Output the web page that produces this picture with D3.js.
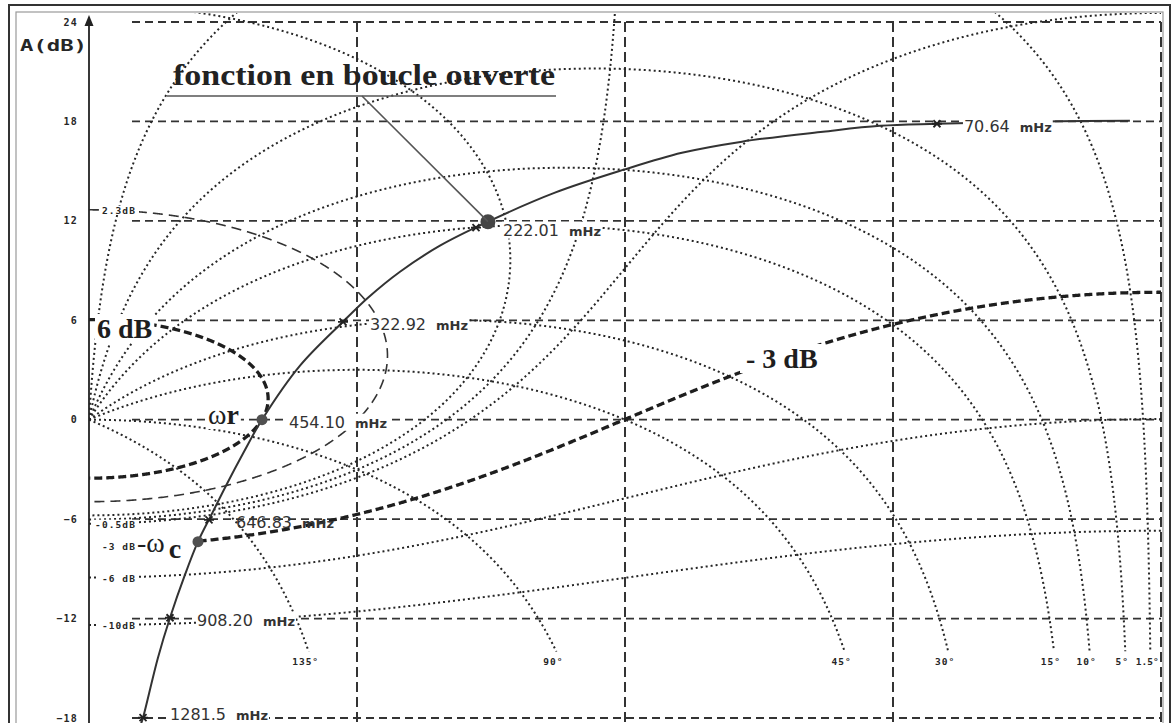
<!DOCTYPE html>
<html><head><meta charset="utf-8">
<script src="https://cdn.jsdelivr.net/npm/d3@7"></script>
<style>body{margin:0;background:#fff}svg{display:block}</style>
</head><body>
<svg id="chart" width="1175" height="723"></svg>
<script>
// Open-loop transfer function in the Black–Nichols plane
const loopPhase = [-5.22, -16.97, -37.62, -47.19, -56.76, -70.36, -80.44, -90.17, -101.76, -113.01, -121.07, -127.78, -133.16, -137.35, -144.57, -150.95, -153.98, -157.0, -159.52, -161.70, -163.88, -166.40, -168.42, -170.93, -171.27];
const loopGain  = [18.04, 18.01, 17.86, 17.74, 17.38, 16.78, 16.11, 15.09, 13.70, 11.95, 10.50, 8.93, 7.36, 5.91, 3.26, 0.0, -1.93, -3.98, -5.79, -7.36, -9.35, -11.95, -14.36, -17.98, -18.35];

// Frequency marks along the open-loop curve
const freqText  = ["70.64", "222.01", "322.92", "454.10", "646.83", "908.20", "1281.5"];
const freqPhase = [-37.62, -115.02, -137.35, -150.95, -159.85, -166.40, -170.93];
const freqGain  = [17.86, 11.59, 5.91, 0.0, -6.04, -11.95, -17.98];

// Axes
const gainTicks  = [24, 18, 12, 6, 0, -6, -12, -18];
const phaseGrid  = [-135, -90, -45, 0];

// Closed-loop iso-gain (M) contours, dB
const mLevels      = [0.5, 0, -0.5, -6, -10];
const mDashedLevel = 2.3;
const mBoldLevels  = [6, -3];
const mLabelText   = ["2.3dB", "-0.5dB", "-3 dB", "-6 dB", "-10dB"];
const mLabelLevel  = [2.3, -0.5, -3, -6, -10];

// Closed-loop iso-phase (N) contours, degrees
const nLevels = [135, 90, 45, 30, 15, 10, 5, 1.5];
const nFloor = -14;

// Points of interest
const pointerPhase = -113.01, pointerGain = 11.95;
const resPhase = -150.95, resGain = 0.0;
const cutPhase = -161.70, cutGain = -7.36;

const svg = d3.select("#chart");
const x = d3.scaleLinear().domain([-180, 0]).range([89, 1161]);
const y = d3.scaleLinear().domain([-18, 24]).range([718, 22]);
const ink = "#262626";
const mono = "'DejaVu Sans Mono', monospace";
const dotted = "2,3";

// Frame
svg.append("rect").attr("x", 9).attr("y", 5).attr("width", 1161).attr("height", 760)
  .attr("fill", "none").attr("stroke", "#333").attr("stroke-width", 2);
svg.append("rect").attr("x", 16).attr("y", 12).attr("width", 1147).attr("height", 760)
  .attr("fill", "none").attr("stroke", "#9a9a9a").attr("stroke-width", 1.2);

svg.append("defs").append("clipPath").attr("id", "plot")
  .append("rect").attr("x", 89).attr("y", 13).attr("width", 1074).attr("height", 712);

// Grid
const grid = svg.append("g").attr("stroke", "#333").attr("stroke-width", 1.8).attr("fill", "none");
grid.selectAll("line.h").data(gainTicks).join("line").attr("class", "h")
  .attr("x1", 132).attr("x2", x(0)).attr("y1", d => y(d)).attr("y2", d => y(d))
  .attr("stroke-dasharray", "8,5");
grid.selectAll("line.v").data(phaseGrid).join("line").attr("class", "v")
  .attr("x1", d => x(d)).attr("x2", d => x(d)).attr("y1", y(24)).attr("y2", 723)
  .attr("stroke-dasharray", "10,5").attr("stroke-width", 2);

// Contour geometry
function toNichols(re, im) {
  let ph = Math.atan2(im, re) * 180 / Math.PI;
  if (ph > 0) ph -= 360;
  return [ph, 20 * Math.log10(Math.hypot(re, im))];
}
function mContour(mDb) {
  const M = Math.pow(10, mDb / 20);
  const pts = [];
  if (Math.abs(M - 1) < 1e-9) {
    for (let i = 0; i <= 500; i++) {
      const t = Math.pow(10, -4 + i * 6 / 500);
      pts.push(toNichols(-0.5, -t));
    }
    return pts;
  }
  const c = M * M / (1 - M * M), r = Math.abs(M / (1 - M * M));
  for (let i = 0; i <= 2000; i++) {
    const a = Math.PI + Math.PI * i / 2000;
    pts.push(toNichols(c + r * Math.cos(a), r * Math.sin(a)));
  }
  return pts;
}
function nContour(theta) {
  const cot = 1 / Math.tan(theta * Math.PI / 180);
  const pts = [];
  for (let ph = -180; ph <= 0; ph += 0.02) {
    const rad = ph * Math.PI / 180;
    const G = -Math.cos(rad) - Math.sin(rad) * cot;
    if (G <= 0) break;
    const g = 20 * Math.log10(G);
    if (g < nFloor) break;
    pts.push([ph, g]);
  }
  return pts;
}

const line = d3.line().x(d => x(d[0])).y(d => y(d[1]));
const contours = svg.append("g").attr("clip-path", "url(#plot)").attr("fill", "none");

contours.selectAll("path.n").data(nLevels).join("path").attr("class", "n")
  .attr("d", d => line(nContour(d)))
  .attr("stroke", ink).attr("stroke-width", 2).attr("stroke-dasharray", dotted);

contours.selectAll("path.m").data(mLevels).join("path").attr("class", "m")
  .attr("d", d => line(mContour(d)))
  .attr("stroke", ink).attr("stroke-width", 2).attr("stroke-dasharray", dotted);

contours.append("path").attr("d", line(mContour(mDashedLevel)))
  .attr("stroke", "#333").attr("stroke-width", 1.6).attr("stroke-dasharray", "10,6");

// Bold contours: 6 dB loop and -3 dB from the cut-off point onward
contours.append("path").attr("d", line(mContour(mBoldLevels[0])))
  .attr("stroke", "#1e1e1e").attr("stroke-width", 3.3).attr("stroke-dasharray", "8,4");
contours.append("path").attr("d", line(mContour(mBoldLevels[1]).filter(p => p[0] >= cutPhase)))
  .attr("stroke", "#1e1e1e").attr("stroke-width", 3.3).attr("stroke-dasharray", "8,4");

// Labels of the N contours
const nLabels = svg.append("g").attr("font-family", mono).attr("font-weight", "bold")
  .attr("font-size", 9.5).attr("fill", ink).attr("text-anchor", "middle");
nLevels.forEach(t => {
  const pts = nContour(t);
  const end = pts[pts.length - 1];
  nLabels.append("text").attr("x", x(end[0]) - 3).attr("y", y(nFloor) + 13)
    .attr("letter-spacing", t < 2 ? 0 : 1).text(t + "°");
});

// Text helper with an optional white backing
function boxed(parent, txt, px, py, attrs, pad, mask) {
  const g = parent.append("g");
  const rect = g.append("rect").attr("fill", "#fff");
  const t = g.append("text").attr("x", px).attr("y", py);
  Object.entries(attrs).forEach(([k, v]) => t.attr(k, v));
  if (typeof txt === "function") txt(t); else t.text(txt);
  if (mask === false) { rect.remove(); return t; }
  const b = t.node().getBBox();
  const p = pad || 1;
  rect.attr("x", b.x - p).attr("y", b.y + 1).attr("width", b.width + 2 * p).attr("height", b.height - 2);
  return t;
}

// M labels at their -180° crossing
const mLab = svg.append("g");
mLabelText.forEach((txt, i) => {
  const M = Math.pow(10, mLabelLevel[i] / 20);
  const G = M > 1 ? M / (M - 1) : M / (1 + M);
  boxed(mLab, txt, 136, y(20 * Math.log10(G)) + 4,
    {"font-family": mono, "font-weight": "bold", "font-size": 9.5, "fill": ink,
     "text-anchor": "end", "letter-spacing": 1.1}, 3);
});

// Open-loop curve
const loopPts = loopPhase.map((p, i) => [p, loopGain[i]]);
svg.append("path").attr("clip-path", "url(#plot)")
  .attr("d", d3.line().x(d => x(d[0])).y(d => y(d[1])).curve(d3.curveCatmullRom.alpha(0.5))(loopPts))
  .attr("fill", "none").attr("stroke", "#333").attr("stroke-width", 2);

// Frequency marks and their labels
const marks = svg.append("g");
freqText.forEach((f, i) => {
  const mx = x(freqPhase[i]), my = y(freqGain[i]);
  marks.append("path")
    .attr("d", `M${mx - 5},${my}L${mx + 5},${my}M${mx - 3.5},${my - 3.5}L${mx + 3.5},${my + 3.5}M${mx - 3.5},${my + 3.5}L${mx + 3.5},${my - 3.5}`)
    .attr("stroke", "#222").attr("stroke-width", 1.8);
  boxed(marks, t => {
    t.append("tspan").text(f);
    t.append("tspan").attr("dx", 10).attr("font-size", 13).attr("font-weight", "bold").text("mHz");
  }, mx + 27, Math.min(my + 8, 720),
    {"font-family": "'DejaVu Sans', sans-serif", "font-size": 16, "fill": "#333"}, 1, f !== "646.83");
});

// Dots
svg.append("circle").attr("cx", x(pointerPhase)).attr("cy", y(pointerGain)).attr("r", 7.5).attr("fill", "#454545");
svg.append("circle").attr("cx", x(resPhase)).attr("cy", y(resGain)).attr("r", 5.5).attr("fill", "#505050");
svg.append("circle").attr("cx", x(cutPhase)).attr("cy", y(cutGain)).attr("r", 5.5).attr("fill", "#505050");

// Annotation: open-loop function
svg.append("line").attr("x1", 167).attr("x2", 556).attr("y1", 96).attr("y2", 96)
  .attr("stroke", "#555").attr("stroke-width", 1.6);
svg.append("line").attr("x1", 362).attr("y1", 96).attr("x2", x(pointerPhase)).attr("y2", y(pointerGain))
  .attr("stroke", "#555").attr("stroke-width", 1.6);
svg.append("text").attr("x", 173).attr("y", 85)
  .attr("font-family", "'Liberation Serif', serif").attr("font-weight", "bold").attr("font-size", 29)
  .attr("textLength", 382).attr("lengthAdjust", "spacingAndGlyphs").attr("fill", "#222")
  .text("fonction en boucle ouverte");

const serif = {"font-family": "'Liberation Serif', serif", "font-weight": "bold", "font-size": 28, "fill": "#1e1e1e"};
boxed(svg, "6 dB", 97, 338, serif, 2);
boxed(svg, "- 3 dB", 746, 368, serif, 6);
boxed(svg, t => {
  t.append("tspan").attr("font-weight", "normal").text("ω");
  t.append("tspan").text("r");
}, 208, 424, serif, 2);
boxed(svg, t => {
  t.append("tspan").attr("font-weight", "normal").text("-ω");
  t.append("tspan").attr("dy", 6).attr("dx", 4).text("c");
}, 137, 552, serif, 1);

// Gain axis
const axis = svg.append("g").attr("transform", `translate(${x(-180)},0)`)
  .call(d3.axisLeft(y).tickValues(gainTicks).tickSize(0).tickPadding(11).tickFormat(d3.format("d")));
axis.select(".domain").remove();
axis.selectAll("text").attr("font-family", mono).attr("font-weight", "bold")
  .attr("font-size", 10).attr("fill", ink).attr("letter-spacing", 1.2).attr("dy", "0.3em");
svg.append("line").attr("x1", x(-180)).attr("x2", x(-180)).attr("y1", 723).attr("y2", 22)
  .attr("stroke", "#222").attr("stroke-width", 1.8);
svg.append("path").attr("d", `M${x(-180)},15L${x(-180) - 4.5},26L${x(-180) + 4.5},26Z`).attr("fill", "#222");
svg.append("text").attr("x", 20).attr("y", 51).attr("font-family", mono).attr("font-weight", "bold")
  .attr("font-size", 15).attr("fill", ink).attr("textLength", 67).attr("lengthAdjust", "spacingAndGlyphs")
  .text("A(dB)");
</script>
</body></html>
